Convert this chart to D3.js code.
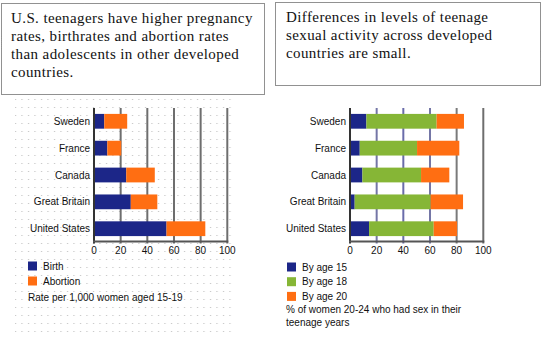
<!DOCTYPE html>
<html>
<head>
<meta charset="utf-8">
<script src="https://cdn.jsdelivr.net/npm/d3@7"></script>
<style>
  html, body { margin: 0; padding: 0; background: #fff; }
  svg { display: block; }
  .cap { font-family: "Liberation Serif", "Times New Roman", serif; font-size: 15px; letter-spacing: 0.4px; fill: #111; }
  .lbl { font-family: "Liberation Sans", Arial, sans-serif; font-size: 10px; fill: #111; }
</style>
</head>
<body>
<svg id="chart" width="542" height="339"></svg>
<script>
(function (d3) {
	"use strict";

	/***** Data *****/
	var countries = ["Sweden", "France", "Canada", "Great Britain", "United States"];

	// Rate per 1,000 women aged 15-19
	var births = [7.7, 10, 24.2, 27.6, 54.4];
	var abortions = [17.2, 10.4, 21.4, 19.9, 29.1];

	// % of women 20-24 who had sex (cumulative)
	var byAge15 = [12.3, 7.3, 9.3, 3.5, 14.3];
	var byAge18 = [65, 50.3, 53.3, 60.5, 62.8];
	var byAge20 = [85.5, 82, 74.5, 84.8, 80.3];

	var ticks = [0, 20, 40, 60, 80, 100];

	var captionLeft = ["U.S. teenagers have higher pregnancy", "rates, birthrates and abortion rates",
		"than adolescents in other developed", "countries."];
	var captionRight = ["Differences in levels of teenage", "sexual activity across developed",
		"countries are small."];

	/***** Colors *****/
	var navy = "#1c2688";
	var orange = "#ff6e12";
	var green = "#86b636";

	var svg = d3.select("#chart");

	// dotted background pattern for the left panel
	var defs = svg.append("defs");
	defs.append("pattern")
		.attr("id", "dots")
		.attr("width", 6.5).attr("height", 8)
		.attr("patternUnits", "userSpaceOnUse")
		.append("rect")
		.attr("x", 2).attr("y", 3)
		.attr("width", 1).attr("height", 1)
		.attr("fill", "#b8b8b8");

	svg.append("rect")
		.attr("x", 15).attr("y", 96)
		.attr("width", 218).attr("height", 240)
		.attr("fill", "url(#dots)");

	/***** Caption boxes *****/
	function caption(x, y, w, h, lines, tx) {
		svg.append("rect")
			.attr("x", x + 0.5).attr("y", y + 0.5)
			.attr("width", w).attr("height", h)
			.attr("fill", "none")
			.attr("stroke", "#222")
			.attr("stroke-dasharray", "1,1");
		svg.append("g").selectAll("text")
			.data(lines)
			.join("text")
			.attr("class", "cap")
			.attr("x", tx)
			.attr("y", function (d, i) { return y + 20 + i * 18; })
			.text(function (d) { return d; });
	}
	caption(1, 3, 263, 91, captionLeft, 11);
	caption(275, 2, 265, 83, captionRight, 286);

	/***** Bar panel *****/
	function panel(x0, x1, series, colors, gridColors) {
		var x = d3.scaleLinear().domain([0, 100]).range([x0, x1]);
		var y = d3.scaleBand().domain(countries).range([108, 242]).paddingInner(0.45).paddingOuter(0.22);
		var yBase = 241.5;

		var g = svg.append("g");

		// gridlines
		g.selectAll("line.grid")
			.data(ticks.slice(1))
			.join("line")
			.attr("x1", function (d) { return x(d); })
			.attr("x2", function (d) { return x(d); })
			.attr("y1", 108).attr("y2", yBase + 2)
			.attr("stroke", function (d, i) { return gridColors[i]; })
			.attr("stroke-width", 2);

		// stacked bars
		series.forEach(function (s, si) {
			g.selectAll(null)
				.data(countries)
				.join("rect")
				.attr("x", function (d, i) { return x(s.from[i]); })
				.attr("y", function (d) { return y(d); })
				.attr("width", function (d, i) { return x(s.to[i]) - x(s.from[i]); })
				.attr("height", y.bandwidth())
				.attr("fill", colors[si]);
		});

		// axes lines
		g.append("line")
			.attr("x1", x(0)).attr("x2", x(0))
			.attr("y1", 108).attr("y2", yBase + 2)
			.attr("stroke", "#333").attr("stroke-width", 2);
		g.append("line")
			.attr("x1", x(0) - 1).attr("x2", x(100) + 1)
			.attr("y1", yBase).attr("y2", yBase)
			.attr("stroke", "#555").attr("stroke-width", 2);

		// tick labels
		g.selectAll("text.tick")
			.data(ticks)
			.join("text")
			.attr("class", "lbl")
			.attr("x", function (d) { return x(d); })
			.attr("y", 254)
			.attr("text-anchor", "middle")
			.text(function (d) { return d; });

		// category labels
		g.selectAll("text.cat")
			.data(countries)
			.join("text")
			.attr("class", "lbl")
			.attr("x", x(0) - 4)
			.attr("y", function (d) { return y(d) + y.bandwidth() / 2 + 3.5; })
			.attr("text-anchor", "end")
			.text(function (d) { return d; });
	}

	var totals = births.map(function (b, i) { return b + abortions[i]; });
	var zeros = countries.map(function () { return 0; });

	panel(94, 227.3,
		[{ from: zeros, to: births }, { from: births, to: totals }],
		[navy, orange],
		["#6e6e6e", "#6e6e6e", "#6e6e6e", "#6e6e6e", "#6e6e6e"]);

	panel(350, 483.3,
		[{ from: zeros, to: byAge15 }, { from: byAge15, to: byAge18 }, { from: byAge18, to: byAge20 }],
		[navy, green, orange],
		["#7476a6", "#6a6caa", "#7476a6", "#7a7a7a", "#6e6e6e"]);

	/***** Legends *****/
	function legend(sx, tx, y0, step, names, colors) {
		var lg = svg.append("g");
		lg.selectAll("rect")
			.data(names)
			.join("rect")
			.attr("x", sx)
			.attr("y", function (d, i) { return y0 + i * step - 4.5; })
			.attr("width", 9).attr("height", 9)
			.attr("fill", function (d, i) { return colors[i]; });
		lg.selectAll("text")
			.data(names)
			.join("text")
			.attr("class", "lbl")
			.attr("x", tx)
			.attr("y", function (d, i) { return y0 + i * step + 3.5; })
			.text(function (d) { return d; });
	}

	legend(28, 43, 266, 15, ["Birth", "Abortion"], [navy, orange]);
	svg.append("text").attr("class", "lbl")
		.attr("x", 28).attr("y", 301)
		.text("Rate per 1,000 women aged 15-19");

	legend(287, 302, 267, 14.7, ["By age 15", "By age 18", "By age 20"], [navy, green, orange]);
	svg.append("text").attr("class", "lbl")
		.attr("x", 286).attr("y", 313)
		.text("% of women 20-24 who had sex in their");
	svg.append("text").attr("class", "lbl")
		.attr("x", 286).attr("y", 326)
		.text("teenage years");

})(d3);
</script>
</body>
</html>
